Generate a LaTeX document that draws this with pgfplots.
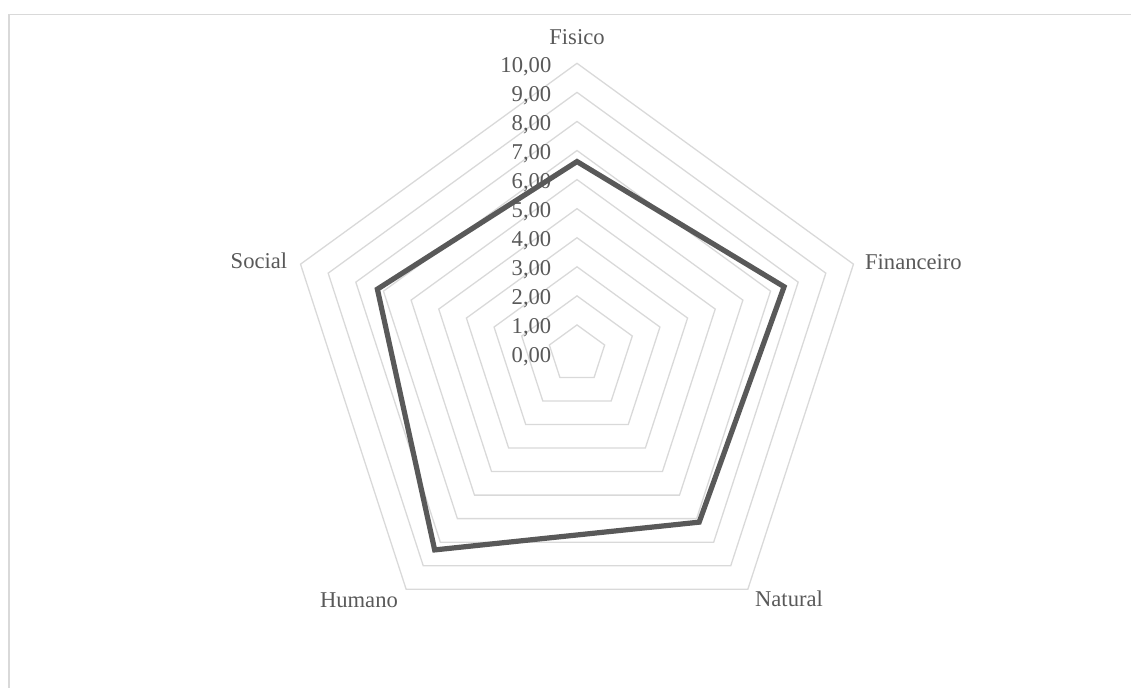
\documentclass[border=0pt]{standalone}
\usepackage{fontspec}
\setmainfont{Liberation Serif}
\usepackage{pgfplots}
\pgfplotsset{compat=1.18}
\usepgfplotslibrary{polar}

\definecolor{txt}{HTML}{595959}
\definecolor{gridc}{HTML}{D9D9D9}
\definecolor{serie}{HTML}{595959}

\tikzset{lbl/.style={font=\fontsize{11.3}{13}\selectfont, text=txt, inner sep=0pt}}

\begin{document}
\begin{tikzpicture}
% page size: 1px of the reference = 0.5pt
\path[use as bounding box] (0,0) rectangle (565.5pt,343.5pt);
% chart area frame (cut by the page on the right and bottom)
\draw[gridc, line width=0.75pt] (4.5pt,-10pt) -- (4.5pt,336.3pt) -- (580pt,336.3pt);

\begin{polaraxis}[
    at={(288.5pt,166.5pt)}, anchor=center,
    width=290.7pt, height=290.7pt, scale only axis,
    xmin=0, xmax=360, ymin=0, ymax=10,
    hide axis, clip=false,
]
    % pentagon grid, rings 1..10
    \pgfplotsinvokeforeach{1,...,10}{
        \addplot[gridc, line width=0.65pt, line join=miter, no marks]
            coordinates {(90,#1) (18,#1) (306,#1) (234,#1) (162,#1) (90,#1) (18,#1)};
    }

    % value labels along the top spoke
    \pgfplotsinvokeforeach{0,...,10}{
        \node[lbl, anchor=east, xshift=-12.65pt, yshift=-1.6pt] at (axis cs:90,#1) {#1,00};
    }

    % series: Fisico, Financeiro, Natural, Humano, Social
    \addplot[serie, line width=2.6pt, line join=miter, no marks]
        coordinates {(90,6.62) (18,7.49) (306,7.15) (234,8.33) (162,7.22) (90,6.62) (18,7.49)};

    % category labels
    \node[lbl] at (axis cs:90,10.89)     {Fisico};
    \node[lbl] at (axis cs:15.3,12.0)    {Financeiro};
    \node[lbl] at (axis cs:-49.1,11.14)  {Natural};
    \node[lbl] at (axis cs:-131.55,11.31){Humano};
    \node[lbl] at (axis cs:163.7,11.40)  {Social};
\end{polaraxis}
\end{tikzpicture}
\end{document}
